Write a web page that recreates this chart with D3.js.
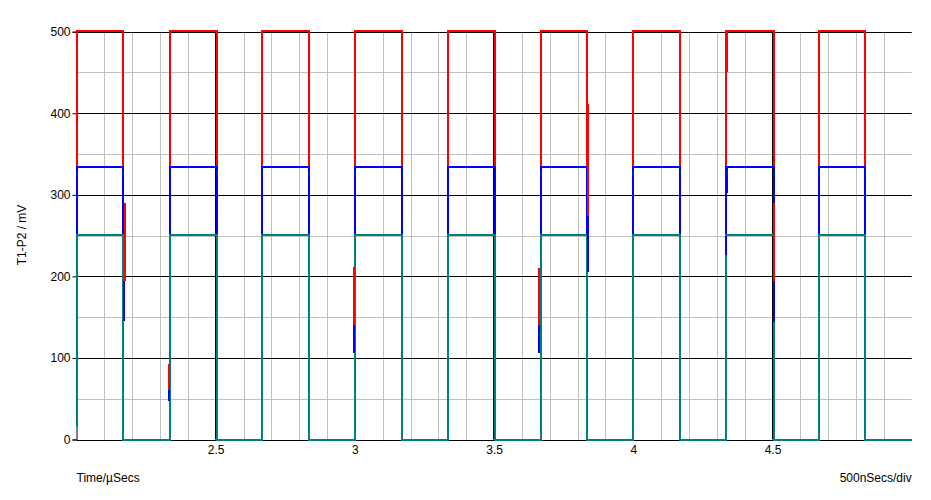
<!DOCTYPE html>
<html>
<head>
<meta charset="utf-8">
<script src="https://cdn.jsdelivr.net/npm/d3@7"></script>
<style>
  html, body { margin: 0; padding: 0; background: #fff; }
  svg { display: block; }
  text { font-family: "Liberation Sans", Arial, sans-serif; font-size: 12px; fill: #000; }
</style>
</head>
<body>
<svg id="chart" width="931" height="500"></svg>
<script>
// ---- data ----
const riseTimes = [2.0, 2.3345, 2.6667, 3.0, 3.3333, 3.6667, 4.0, 4.333, 4.6667];
const fallTimes = [2.1675, 2.503, 2.8345, 3.168, 3.5025, 3.8325, 4.1675, 4.5045, 4.834];
const endTime = 5.0;
const seriesNames = ["T1-P2 red", "T1-P2 blue", "T1-P2 teal"];
const seriesHigh = [501, 334, 250.5];
const seriesStart = [15, 15, 15];
const seriesColors = ["#ff0000", "#0000ff", "#008080"];
// glitch segments: [time, fromValue, toValue]
const redGlitches = [[2.1725, 290, 194], [2.3315, 92, 61], [2.9979, 211, 141], [3.6624, 210, 141],
                     [3.8375, 411, 274], [4.3365, 500, 451], [4.5045, 290, 194]];
const blueGlitches = [[2.1695, 194, 145], [2.3315, 61, 47], [2.9979, 141, 106], [3.6624, 141, 106],
                      [3.8375, 274, 205], [4.3365, 333, 302], [4.3330, 250, 226], [4.5045, 194, 144]];
const xTickValues = [2.5, 3, 3.5, 4, 4.5];
const xTickLabels = ["2.5", "3", "3.5", "4", "4.5"];
const yTickValues = [0, 100, 200, 300, 400, 500];
const xTitle = "Time/\u00b5Secs";
const xScaleNote = "500nSecs/div";
const yTitle = "T1-P2 / mV";

// ---- layout ----
const svg = d3.select("#chart");
const L = 76.5, R = 911.7, T = 31.7, B = 439.5;
const x = d3.scaleLinear().domain([2, 5]).range([L, R]);
const y = d3.scaleLinear().domain([0, 500]).range([B, T]);
const px = v => Math.round(x(v));
const py = v => Math.round(y(v));

// grid: minor verticals (gray) every 0.1 µs
const minorX = d3.range(21, 50).map(d => d / 10).filter(d => Math.abs(d * 2 - Math.round(d * 2)) > 1e-6);
const majorX = d3.range(5, 10).map(d => d / 2).filter(d => d > 2 && d < 5);
const g = svg.append("g");
g.selectAll(".vminor").data(minorX).enter().append("line")
  .attr("x1", d => Math.round(x(d)) + 0.5).attr("x2", d => Math.round(x(d)) + 0.5)
  .attr("y1", y(500)).attr("y2", y(0) + 2)
  .attr("stroke", "#c0c0c0").attr("stroke-width", 1);
const minorY = d3.range(50, 500, 100);
g.selectAll(".hminor").data(minorY).enter().append("line")
  .attr("x1", L).attr("x2", R)
  .attr("y1", d => Math.round(y(d)) + 0.5).attr("y2", d => Math.round(y(d)) + 0.5)
  .attr("stroke", "#c0c0c0").attr("stroke-width", 1);
g.selectAll(".vmajor").data(majorX).enter().append("line")
  .attr("x1", d => Math.round(x(d)) - 0.5).attr("x2", d => Math.round(x(d)) - 0.5)
  .attr("y1", y(500)).attr("y2", y(0))
  .attr("stroke", "#000").attr("stroke-width", 1);
g.selectAll(".hmajor").data(yTickValues).enter().append("line")
  .attr("x1", L).attr("x2", R)
  .attr("y1", d => Math.round(y(d)) + 0.5).attr("y2", d => Math.round(y(d)) + 0.5)
  .attr("stroke", "#000").attr("stroke-width", 1);

// y axis
const yAxis = d3.axisLeft(y).tickValues(yTickValues).tickSize(4).tickPadding(2).tickFormat(d3.format("d"));
const ya = svg.append("g").attr("transform", `translate(${L},0)`).call(yAxis);
ya.select(".domain").attr("stroke", "#000");
ya.selectAll(".tick line").attr("stroke", "#000");
ya.selectAll("text").style("font-family", "'Liberation Sans', Arial, sans-serif").style("font-size", "12px").attr("fill", "#000");

// x axis labels
const xAxis = d3.axisBottom(x).tickValues(xTickValues).tickSize(0).tickPadding(6)
  .tickFormat((d, i) => xTickLabels[i]);
const xa = svg.append("g").attr("transform", `translate(0,${B})`).call(xAxis);
xa.select(".domain").remove();
xa.selectAll("text").style("font-family", "'Liberation Sans', Arial, sans-serif").style("font-size", "12px").attr("fill", "#000");

// traces
function tracePoints(si) {
  const hi = seriesHigh[si];
  const pts = [[riseTimes[0], seriesStart[si]]];
  riseTimes.forEach((r, i) => {
    pts.push([r, i === 0 ? seriesStart[si] : 0]);
    pts.push([r, hi]);
    pts.push([fallTimes[i], hi]);
    pts.push([fallTimes[i], 0]);
  });
  pts.push([endTime, 0]);
  return pts;
}
const line = d3.line().x(d => px(d[0])).y(d => py(d[1]));
seriesNames.forEach((name, si) => {
  svg.append("path")
    .attr("d", line(tracePoints(si)))
    .attr("fill", "none")
    .attr("stroke", seriesColors[si])
    .attr("stroke-width", 2)
    .attr("stroke-linejoin", "miter");
});
// glitches
[[redGlitches, seriesColors[0]], [blueGlitches, seriesColors[1]]].forEach(([arr, col]) => {
  svg.append("g").selectAll("line").data(arr).enter().append("line")
    .attr("x1", d => px(d[0])).attr("x2", d => px(d[0]))
    .attr("y1", d => py(d[1])).attr("y2", d => py(d[2]))
    .attr("stroke", col).attr("stroke-width", 2);
});

// titles
svg.append("text").attr("x", L).attr("y", 482).text(xTitle);
svg.append("text").attr("x", R).attr("y", 482).attr("text-anchor", "end").text(xScaleNote);
svg.append("text").attr("transform", "translate(26,235) rotate(-90)").attr("text-anchor", "middle").text(yTitle);
</script>
</body>
</html>
